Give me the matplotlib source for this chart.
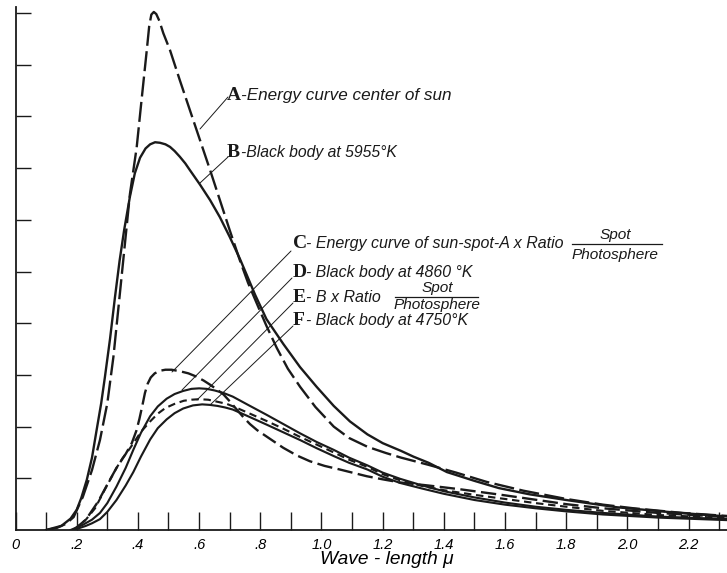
import matplotlib
matplotlib.use('Agg')
import matplotlib.pyplot as plt

# ---------------- data ----------------
A_x = [0.10, 0.135, 0.165, 0.19, 0.22, 0.25, 0.276, 0.30, 0.32, 0.345, 0.374, 0.396, 0.412,
       0.429, 0.437, 0.444, 0.452, 0.46, 0.47, 0.483, 0.505, 0.537, 0.57, 0.603, 0.636, 0.668,
       0.70, 0.733, 0.76, 0.793, 0.82, 0.854, 0.89, 0.93, 0.98, 1.04, 1.09, 1.15, 1.21, 1.26,
       1.35, 1.44, 1.54, 1.66, 1.80, 1.92, 2.02, 2.18, 2.33]
A_y = [0.0, 0.04, 0.12, 0.25, 0.64, 1.16, 1.74, 2.45, 3.35, 4.8, 6.5, 7.4, 8.32,
       9.28, 9.75, 9.97, 10.02, 9.98, 9.85, 9.61, 9.28, 8.70, 8.12, 7.54, 6.96, 6.38,
       5.80, 5.22, 4.78, 4.32, 3.95, 3.52, 3.12, 2.77, 2.38, 2.00, 1.78, 1.61, 1.49, 1.40,
       1.26, 1.11, 0.93, 0.76, 0.60, 0.49, 0.42, 0.33, 0.27]

B_x = [0.10, 0.15, 0.18, 0.20, 0.215, 0.233, 0.25, 0.265, 0.28, 0.292, 0.309, 0.325, 0.34,
       0.355, 0.374, 0.39, 0.407, 0.425, 0.44, 0.456, 0.472, 0.49, 0.505, 0.52, 0.537, 0.555,
       0.57, 0.603, 0.636, 0.668, 0.70, 0.733, 0.756, 0.783, 0.82, 0.875, 0.93, 0.984, 1.04,
       1.093, 1.15, 1.20, 1.26, 1.30, 1.35, 1.41, 1.50, 1.58, 1.68, 1.80, 1.965, 2.15, 2.33]
B_y = [0.0, 0.08, 0.22, 0.39, 0.62, 0.97, 1.4, 1.93, 2.45, 2.95, 3.7, 4.5, 5.2,
       5.8, 6.45, 6.9, 7.2, 7.38, 7.46, 7.5, 7.49, 7.46, 7.41, 7.33, 7.22, 7.09,
       6.96, 6.68, 6.38, 6.05, 5.67, 5.25, 4.93, 4.55, 4.08, 3.60, 3.15, 2.77, 2.40,
       2.10, 1.85, 1.68, 1.53, 1.42, 1.30, 1.12, 0.95, 0.81, 0.69, 0.58, 0.44, 0.34, 0.26]

C_x = [0.19, 0.23, 0.27, 0.30, 0.33, 0.36, 0.38, 0.395, 0.405, 0.415, 0.423, 0.432, 0.442,
       0.455, 0.472, 0.49, 0.51, 0.538, 0.565, 0.59, 0.615, 0.636, 0.66, 0.68, 0.70, 0.723,
       0.745, 0.766, 0.79, 0.82, 0.875, 0.92, 0.962, 1.01, 1.06, 1.148, 1.20, 1.257, 1.35,
       1.45, 1.60, 1.80, 1.92, 2.10, 2.33]
C_y = [0.0, 0.2, 0.55, 0.88, 1.2, 1.47, 1.68, 1.92, 2.15, 2.42, 2.65, 2.83, 2.95,
       3.03, 3.08, 3.10, 3.10, 3.07, 3.03, 2.97, 2.89, 2.81, 2.71, 2.62, 2.49, 2.33,
       2.18, 2.05, 1.93, 1.81, 1.59, 1.44, 1.33, 1.24, 1.17, 1.04, 0.98, 0.92, 0.86,
       0.79, 0.67, 0.50, 0.42, 0.33, 0.25]

D_x = [0.18, 0.22, 0.25, 0.276, 0.30, 0.33, 0.36, 0.385, 0.41, 0.44, 0.465, 0.494, 0.52,
       0.548, 0.575, 0.60, 0.625, 0.65, 0.68, 0.71, 0.76, 0.82, 0.875, 0.93, 0.985, 1.04,
       1.09, 1.15, 1.20, 1.257, 1.33, 1.40, 1.50, 1.60, 1.70, 1.80, 1.92, 2.10, 2.33]
D_y = [0.0, 0.1, 0.2, 0.33, 0.52, 0.84, 1.2, 1.55, 1.88, 2.2, 2.39, 2.54, 2.63,
       2.69, 2.73, 2.74, 2.73, 2.70, 2.65, 2.58, 2.42, 2.23, 2.05, 1.87, 1.70, 1.55,
       1.40, 1.25, 1.11, 0.99, 0.86, 0.75, 0.63, 0.53, 0.45, 0.39, 0.33, 0.26, 0.21]

E_x = [0.19, 0.23, 0.26, 0.29, 0.31, 0.33, 0.35, 0.374, 0.39, 0.41, 0.44, 0.465, 0.49,
       0.52, 0.55, 0.575, 0.60, 0.63, 0.66, 0.69, 0.72, 0.77, 0.82, 0.875, 0.93, 0.985,
       1.04, 1.09, 1.15, 1.20, 1.257, 1.33, 1.40, 1.50, 1.60, 1.70, 1.80, 1.92, 2.10, 2.33]
E_y = [0.0, 0.2, 0.42, 0.76, 0.98, 1.2, 1.39, 1.58, 1.72, 1.9, 2.1, 2.25, 2.36,
       2.44, 2.5, 2.52, 2.53, 2.52, 2.48, 2.44, 2.37, 2.24, 2.11, 1.96, 1.80, 1.65,
       1.50, 1.36, 1.22, 1.08, 0.96, 0.85, 0.77, 0.68, 0.60, 0.52, 0.45, 0.37, 0.29, 0.23]

F_x = [0.19, 0.23, 0.25, 0.276, 0.30, 0.33, 0.36, 0.385, 0.41, 0.44, 0.465, 0.494, 0.52,
       0.548, 0.58, 0.61, 0.635, 0.66, 0.685, 0.71, 0.76, 0.82, 0.875, 0.93, 0.985, 1.04,
       1.09, 1.15, 1.20, 1.257, 1.33, 1.40, 1.50, 1.60, 1.70, 1.80, 1.92, 2.10, 2.33]
F_y = [0.0, 0.08, 0.13, 0.21, 0.35, 0.58, 0.86, 1.12, 1.42, 1.75, 1.97, 2.14, 2.26,
       2.35, 2.41, 2.43, 2.42, 2.40, 2.37, 2.33, 2.20, 2.04, 1.89, 1.74, 1.58, 1.43,
       1.30, 1.17, 1.03, 0.91, 0.80, 0.70, 0.58, 0.49, 0.42, 0.36, 0.30, 0.24, 0.19]

x_major = [0, 0.2, 0.4, 0.6, 0.8, 1.0, 1.2, 1.4, 1.6, 1.8, 2.0, 2.2]
x_major_labels = ['0', '.2', '.4', '.6', '.8', '1.0', '1.2', '1.4', '1.6', '1.8', '2.0', '2.2']
x_minor = [0.1, 0.3, 0.5, 0.7, 0.9, 1.1, 1.3, 1.5, 1.7, 1.9, 2.1, 2.3]
y_ticks = [1, 2, 3, 4, 5, 6, 7, 8, 9, 10]

labels_letter = ['A', 'B', 'C', 'D', 'E', 'F']
labels_text = ['-Energy curve center of sun',
               '-Black body at 5955°K',
               '- Energy curve of sun-spot-A x Ratio',
               '- Black body at 4860 °K',
               '- B x Ratio',
               '- Black body at 4750°K']
frac_num = 'Spot'
frac_den = 'Photosphere'
xlabel = 'Wave - length μ'

# ---------------- figure ----------------
W, H = 727, 573
ink = '#1a1a1a'
SANS = ['Liberation Sans', 'DejaVu Sans']
fig = plt.figure(figsize=(W / 100, H / 100), dpi=100)
fig.patch.set_facecolor('white')
X0, Y0 = 15.5, 530.0      # pixel position of data origin
SX, SY = 306.0, 51.7      # pixels per unit
ax = fig.add_axes([X0 / W, (H - Y0) / H, (W - X0) / W, (Y0 - 7) / H])
ax.set_xlim(0, (W - X0) / SX)
ax.set_ylim(0, (Y0 - 7) / SY)


def P(px, py):
    """pixel position (from top-left) -> data coords"""
    return ((px - X0) / SX, (Y0 - py) / SY)


lw = 1.7
ax.plot(A_x, A_y, color=ink, lw=lw, dashes=(8.5, 2.3))
ax.plot(B_x, B_y, color=ink, lw=lw)
ax.plot(C_x, C_y, color=ink, lw=lw, dashes=(6.5, 2.3))
ax.plot(D_x, D_y, color=ink, lw=lw * 0.9)
ax.plot(E_x, E_y, color=ink, lw=lw * 0.9, dashes=(3.5, 2.2))
ax.plot(F_x, F_y, color=ink, lw=lw * 0.9)

for s in ['top', 'right']:
    ax.spines[s].set_visible(False)
for s in ['left', 'bottom']:
    ax.spines[s].set_linewidth(1.3)
    ax.spines[s].set_color(ink)

tick_font = dict(family=SANS, style='italic', size=10.5)
ax.set_xticks(x_major)
ax.set_xticklabels(x_major_labels, fontdict=tick_font)
ax.set_xticks(x_minor, minor=True)
ax.set_yticks(y_ticks)
ax.set_yticklabels([])
ax.tick_params(axis='x', which='both', direction='in', length=13, width=1.0, color=ink, pad=6)
ax.tick_params(axis='y', which='both', direction='in', length=11, width=1.0, color=ink)

ax.set_xlabel(xlabel, fontdict=dict(family=SANS, style='italic', size=13.8))
ax.xaxis.set_label_coords((387 - X0) / (W - X0), -30 / (Y0 - 7))
ax.xaxis.label.set_va('center')

# ---------------- annotations ----------------
leader = dict(arrowstyle='-', color=ink, lw=0.7, shrinkA=0, shrinkB=0)
lead_pts = [((200, 129), (228, 97)),
            ((200, 183), (228, 157)),
            ((172, 372), (291, 251)),
            ((182, 390), (292, 278)),
            ((197, 400), (293, 303)),
            ((210, 405), (293, 326))]
for (p0, p1) in lead_pts:
    ax.annotate('', xy=P(*p0), xytext=P(*p1), arrowprops=leader)

letter_font = dict(family=['Liberation Serif', 'DejaVu Serif'], size=14, weight='bold')
text_sizes = [12.3, 11.3, 11.5, 11.4, 11.5, 11.4]
text_pos = [(227, 241, 100), (227, 241, 157), (293, 306, 248),
            (293, 306, 277), (293, 306, 302), (293, 306, 325)]
for (lx, tx, by), let, txt, sz in zip(text_pos, labels_letter, labels_text, text_sizes):
    ax.text(*P(lx, by), let, ha='left', va='baseline', color=ink, fontdict=letter_font)
    ax.text(*P(tx, by), txt, ha='left', va='baseline', color=ink,
            fontdict=dict(family=SANS, style='italic', size=sz))

# fractions Spot / Photosphere
frac_font = dict(family=SANS, style='italic', size=11.1)
for (cx, ytop, ybar, ybot, xb0, xb1) in [(615, 235, 244, 255, 572, 662),
                                         (437, 288, 297, 305, 395, 478)]:
    ax.text(*P(cx, ytop), frac_num, ha='center', va='center', color=ink, fontdict=frac_font)
    ax.text(*P(cx, ybot), frac_den, ha='center', va='center', color=ink, fontdict=frac_font)
    (bx0, by0), (bx1, _) = P(xb0, ybar), P(xb1, ybar)
    ax.plot([bx0, bx1], [by0, by0], color=ink, lw=0.9)

fig.savefig('out.png', dpi=100, facecolor='white')
